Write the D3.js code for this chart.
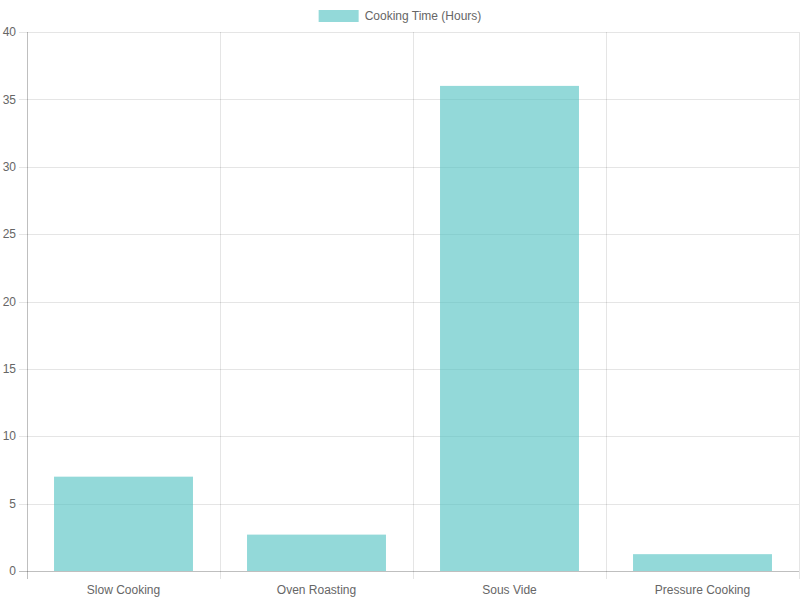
<!DOCTYPE html>
<html>
<head>
<meta charset="utf-8">
<script src="https://cdn.jsdelivr.net/npm/d3@7"></script>
<style>
  body { margin: 0; background: #fff; }
  text { font-family: "Liberation Sans", Arial, Helvetica, sans-serif; }
</style>
</head>
<body>
<div id="chart"></div>
<script>
// chart data
var categories = ["Slow Cooking", "Oven Roasting", "Sous Vide", "Pressure Cooking"];
var hours = [7, 2.7, 36, 1.25];
var yTicks = [0, 5, 10, 15, 20, 25, 30, 35, 40];
var seriesName = "Cooking Time (Hours)";

var width = 800, height = 600;
var margin = { top: 32, right: 1, bottom: 29, left: 27 };
var fill = "rgba(75,192,192,0.6)";
var gridColor = "rgba(0,0,0,0.1)";
var textColor = "#666";

var svg = d3.select("#chart").append("svg")
    .attr("width", width)
    .attr("height", height);

var x = d3.scaleBand()
    .domain(categories)
    .range([margin.left, width - margin.right]);

var y = d3.scaleLinear()
    .domain([0, 40])
    .range([height - margin.bottom, margin.top]);

// horizontal grid lines
svg.append("g").selectAll("line")
    .data(yTicks)
    .enter().append("line")
    .attr("x1", margin.left - 8)
    .attr("x2", width - margin.right)
    .attr("y1", d => Math.round(y(d)) + 0.5)
    .attr("y2", d => Math.round(y(d)) + 0.5)
    .attr("stroke", d => d === 0 ? "rgba(0,0,0,0.25)" : gridColor);

// vertical grid lines (category boundaries)
var bounds = categories.map(c => x(c)).concat([x.range()[1]]);
svg.append("g").selectAll("line")
    .data(bounds)
    .enter().append("line")
    .attr("x1", d => Math.round(d) + 0.5)
    .attr("x2", d => Math.round(d) + 0.5)
    .attr("y1", margin.top)
    .attr("y2", height - margin.bottom + 8)
    .attr("stroke", (d, i) => i === 0 ? "rgba(0,0,0,0.25)" : gridColor);

// y tick labels
svg.append("g").selectAll("text")
    .data(yTicks)
    .enter().append("text")
    .attr("x", margin.left - 11)
    .attr("y", d => y(d))
    .attr("dy", "0.35em")
    .attr("text-anchor", "end")
    .attr("font-size", 12)
    .attr("fill", textColor)
    .text(d => d);

// x labels
svg.append("g").selectAll("text")
    .data(categories)
    .enter().append("text")
    .attr("x", d => x(d) + x.bandwidth() / 2)
    .attr("y", height - margin.bottom + 19)
    .attr("dy", "0.35em")
    .attr("text-anchor", "middle")
    .attr("font-size", 12)
    .attr("fill", textColor)
    .text(d => d);

// bars: 80% category * 90% bar like chart.js
var barW = x.bandwidth() * 0.72;
svg.append("g").selectAll("rect")
    .data(hours)
    .enter().append("rect")
    .attr("x", (d, i) => x(categories[i]) + (x.bandwidth() - barW) / 2)
    .attr("y", d => y(d))
    .attr("width", barW)
    .attr("height", d => y(0) - y(d))
    .attr("fill", fill);

// legend
var legend = svg.append("g");
var legendText = legend.append("text")
    .attr("y", 16)
    .attr("dy", "0.35em")
    .attr("font-size", 12)
    .attr("fill", textColor)
    .text(seriesName);
var tw = legendText.node().getComputedTextLength();
var total = 40 + 6 + tw;
var lx = (width - total) / 2;
legend.append("rect")
    .attr("x", lx)
    .attr("y", 10)
    .attr("width", 40)
    .attr("height", 12)
    .attr("fill", fill);
legendText.attr("x", lx + 46);
</script>
</body>
</html>
